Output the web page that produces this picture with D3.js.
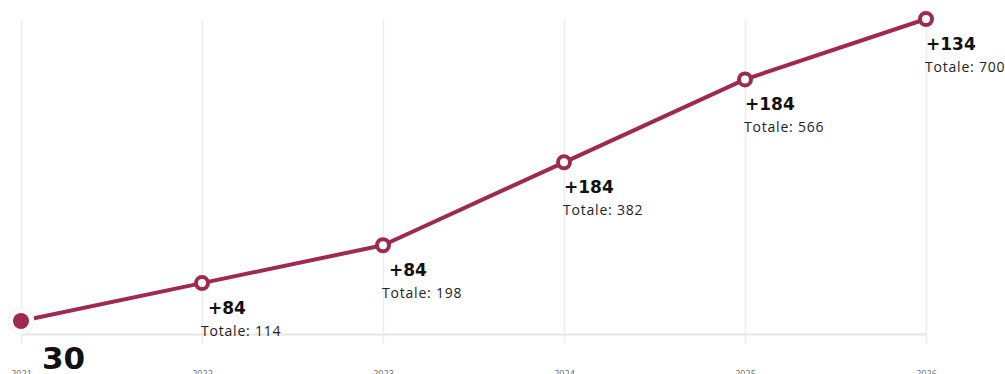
<!DOCTYPE html>
<html>
<head>
<meta charset="utf-8">
<script src="https://cdn.jsdelivr.net/npm/d3@7"></script>
<style>
  html, body { margin: 0; padding: 0; background: #fff; }
  svg { display: block; font-family: "Open Sans", Roboto, sans-serif; }
</style>
</head>
<body>
<svg id="chart" width="1005" height="374"></svg>
<script>
// Cumulative totals per year and the yearly increments
const years = [2021, 2022, 2023, 2024, 2025, 2026];
const totals = [30, 114, 198, 382, 566, 700];
const increments = [null, 84, 84, 184, 184, 134];

const color = "#9e2a4f";
const boldFont = "'DejaVu Sans', Verdana, sans-serif";
const svg = d3.select("#chart");

const x = d3.scaleLinear().domain([2021, 2026]).range([21, 926]);
const y = d3.scaleLinear().domain([0, 700]).range([334.5, 19]);

const gridTop = 20, gridBottom = 343;

// Vertical grid lines and year labels
const axis = d3.axisBottom(x)
  .tickValues(years)
  .tickFormat(d3.format("d"))
  .tickSize(-(gridBottom - gridTop))
  .tickPadding(28);

const gAxis = svg.append("g")
  .attr("transform", `translate(0,${gridBottom})`)
  .call(axis);
gAxis.select(".domain").remove();
gAxis.selectAll(".tick line").attr("stroke", "#ececec").attr("stroke-width", 1.5);
gAxis.selectAll(".tick text")
  .attr("fill", "#666")
  .style("font-size", "9px")
  .style("font-family", "'Open Sans', sans-serif");

// Baseline
svg.append("line")
  .attr("x1", x(2021)).attr("x2", x(2026))
  .attr("y1", y(0)).attr("y2", y(0))
  .attr("stroke", "#e6e6e6").attr("stroke-width", 2);

const data = years.map((yr, i) => ({ year: yr, total: totals[i], inc: increments[i] }));

// Growth line
svg.append("path")
  .datum(data)
  .attr("fill", "none")
  .attr("stroke", color)
  .attr("stroke-width", 4)
  .attr("stroke-linejoin", "round")
  .attr("d", d3.line().x(d => x(d.year)).y(d => y(d.total)));

// Starting point: halo plus filled dot
const first = data[0];
svg.append("circle")
  .attr("cx", x(first.year)).attr("cy", y(first.total))
  .attr("r", 13)
  .attr("fill", "#fff")
  .attr("stroke", "#f2f2f2").attr("stroke-width", 1);
svg.append("circle")
  .attr("cx", x(first.year)).attr("cy", y(first.total))
  .attr("r", 8)
  .attr("fill", color);

svg.append("text")
  .attr("x", x(first.year) + 21)
  .attr("y", 369)
  .attr("fill", "#111")
  .style("font-family", boldFont)
  .style("font-size", "31px")
  .style("font-weight", 700)
  .text(first.total);

// Following points: hollow markers
const rest = data.slice(1);
svg.selectAll("circle.pt")
  .data(rest)
  .join("circle")
  .attr("class", "pt")
  .attr("cx", d => x(d.year)).attr("cy", d => y(d.total))
  .attr("r", 6)
  .attr("fill", "#fff")
  .attr("stroke", color)
  .attr("stroke-width", 4);

// Increment labels
svg.selectAll("text.inc")
  .data(rest)
  .join("text")
  .attr("class", "inc")
  .attr("x", d => x(d.year) + (d.inc < 100 ? 6 : 0))
  .attr("y", d => y(d.total) + 31)
  .attr("fill", "#111")
  .style("font-family", boldFont)
  .style("font-size", "17px")
  .style("font-weight", 700)
  .text(d => "+" + d.inc);

// Running total labels
svg.selectAll("text.tot")
  .data(rest)
  .join("text")
  .attr("class", "tot")
  .attr("x", d => x(d.year) - 1)
  .attr("y", d => y(d.total) + 53)
  .attr("fill", "#222")
  .style("font-size", "14px")
  .style("letter-spacing", "0.8px")
  .text(d => "Totale: " + d.total);
</script>
</body>
</html>
